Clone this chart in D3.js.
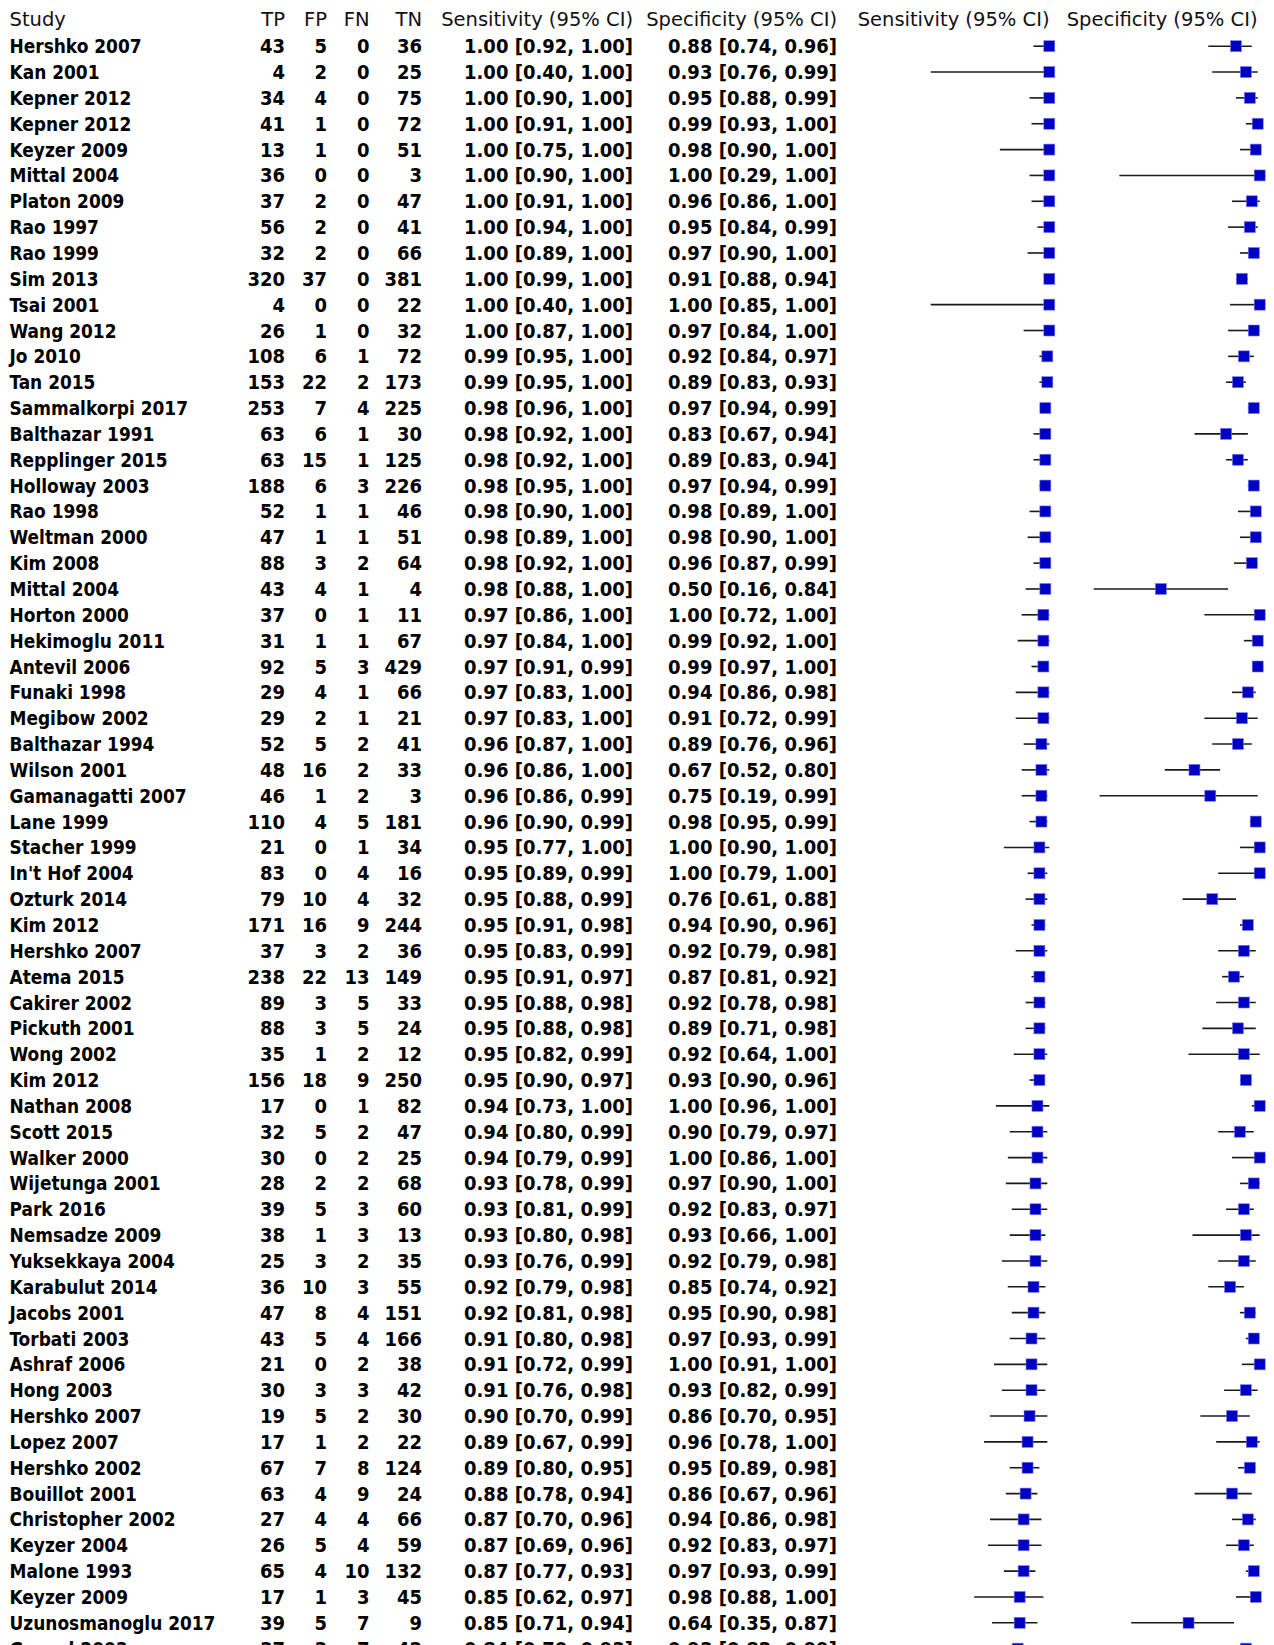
<!DOCTYPE html>
<html>
<head>
<meta charset="utf-8">
<script src="https://cdn.jsdelivr.net/npm/d3@7"></script>
<style>
  html, body { margin: 0; padding: 0; background: #fff; }
  svg { display: block; }
  .hdr { font-family: "DejaVu Sans", sans-serif; font-size: 19.5px; fill: #111; }
  .row { font-family: "DejaVu Sans Condensed", "DejaVu Sans", sans-serif; font-weight: bold; font-size: 20px; fill: #000; }
  .row.name { font-size: 18.9px; }
</style>
</head>
<body>
<svg id="chart" width="1274" height="1645"></svg>
<script>
const studies = ["Hershko 2007","Kan 2001","Kepner 2012","Kepner 2012","Keyzer 2009","Mittal 2004","Platon 2009","Rao 1997","Rao 1999","Sim 2013","Tsai 2001","Wang 2012","Jo 2010","Tan 2015","Sammalkorpi 2017","Balthazar 1991","Repplinger 2015","Holloway 2003","Rao 1998","Weltman 2000","Kim 2008","Mittal 2004","Horton 2000","Hekimoglu 2011","Antevil 2006","Funaki 1998","Megibow 2002","Balthazar 1994","Wilson 2001","Gamanagatti 2007","Lane 1999","Stacher 1999","In't Hof 2004","Ozturk 2014","Kim 2012","Hershko 2007","Atema 2015","Cakirer 2002","Pickuth 2001","Wong 2002","Kim 2012","Nathan 2008","Scott 2015","Walker 2000","Wijetunga 2001","Park 2016","Nemsadze 2009","Yuksekkaya 2004","Karabulut 2014","Jacobs 2001","Torbati 2003","Ashraf 2006","Hong 2003","Hershko 2007","Lopez 2007","Hershko 2002","Bouillot 2001","Christopher 2002","Keyzer 2004","Malone 1993","Keyzer 2009","Uzunosmanoglu 2017","Gonzal 2003"];
const TP = [43,4,34,41,13,36,37,56,32,320,4,26,108,153,253,63,63,188,52,47,88,43,37,31,92,29,29,52,48,46,110,21,83,79,171,37,238,89,88,35,156,17,32,30,28,39,38,25,36,47,43,21,30,19,17,67,63,27,26,65,17,39,37];
const FP = [5,2,4,1,1,0,2,2,2,37,0,1,6,22,7,6,15,6,1,1,3,4,0,1,5,4,2,5,16,1,4,0,0,10,16,3,22,3,3,1,18,0,5,0,2,5,1,3,10,8,5,0,3,5,1,7,4,4,5,4,1,5,3];
const FN = [0,0,0,0,0,0,0,0,0,0,0,0,1,2,4,1,1,3,1,1,2,1,1,1,3,1,1,2,2,2,5,1,4,4,9,2,13,5,5,2,9,1,2,2,2,3,3,2,3,4,4,2,3,2,2,8,9,4,4,10,3,7,7];
const TN = [36,25,75,72,51,3,47,41,66,381,22,32,72,173,225,30,125,226,46,51,64,4,11,67,429,66,21,41,33,3,181,34,16,32,244,36,149,33,24,12,250,82,47,25,68,60,13,35,55,151,166,38,42,30,22,124,24,66,59,132,45,9,42];
const sens   = [1.00,1.00,1.00,1.00,1.00,1.00,1.00,1.00,1.00,1.00,1.00,1.00,0.99,0.99,0.98,0.98,0.98,0.98,0.98,0.98,0.98,0.98,0.97,0.97,0.97,0.97,0.97,0.96,0.96,0.96,0.96,0.95,0.95,0.95,0.95,0.95,0.95,0.95,0.95,0.95,0.95,0.94,0.94,0.94,0.93,0.93,0.93,0.93,0.92,0.92,0.91,0.91,0.91,0.90,0.89,0.89,0.88,0.87,0.87,0.87,0.85,0.85,0.84];
const sensLo = [0.92,0.40,0.90,0.91,0.75,0.90,0.91,0.94,0.89,0.99,0.40,0.87,0.95,0.95,0.96,0.92,0.92,0.95,0.90,0.89,0.92,0.88,0.86,0.84,0.91,0.83,0.83,0.87,0.86,0.86,0.90,0.77,0.89,0.88,0.91,0.83,0.91,0.88,0.88,0.82,0.90,0.73,0.80,0.79,0.78,0.81,0.80,0.76,0.79,0.81,0.80,0.72,0.76,0.70,0.67,0.80,0.78,0.70,0.69,0.77,0.62,0.71,0.70];
const sensHi = [1.00,1.00,1.00,1.00,1.00,1.00,1.00,1.00,1.00,1.00,1.00,1.00,1.00,1.00,1.00,1.00,1.00,1.00,1.00,1.00,1.00,1.00,1.00,1.00,0.99,1.00,1.00,1.00,1.00,0.99,0.99,1.00,0.99,0.99,0.98,0.99,0.97,0.98,0.98,0.99,0.97,1.00,0.99,0.99,0.99,0.99,0.98,0.99,0.98,0.98,0.98,0.99,0.98,0.99,0.99,0.95,0.94,0.96,0.96,0.93,0.97,0.94,0.93];
const spec   = [0.88,0.93,0.95,0.99,0.98,1.00,0.96,0.95,0.97,0.91,1.00,0.97,0.92,0.89,0.97,0.83,0.89,0.97,0.98,0.98,0.96,0.50,1.00,0.99,0.99,0.94,0.91,0.89,0.67,0.75,0.98,1.00,1.00,0.76,0.94,0.92,0.87,0.92,0.89,0.92,0.93,1.00,0.90,1.00,0.97,0.92,0.93,0.92,0.85,0.95,0.97,1.00,0.93,0.86,0.96,0.95,0.86,0.94,0.92,0.97,0.98,0.64,0.93];
const specLo = [0.74,0.76,0.88,0.93,0.90,0.29,0.86,0.84,0.90,0.88,0.85,0.84,0.84,0.83,0.94,0.67,0.83,0.94,0.89,0.90,0.87,0.16,0.72,0.92,0.97,0.86,0.72,0.76,0.52,0.19,0.95,0.90,0.79,0.61,0.90,0.79,0.81,0.78,0.71,0.64,0.90,0.96,0.79,0.86,0.90,0.83,0.66,0.79,0.74,0.90,0.93,0.91,0.82,0.70,0.78,0.89,0.67,0.86,0.83,0.93,0.88,0.35,0.82];
const specHi = [0.96,0.99,0.99,1.00,1.00,1.00,1.00,0.99,1.00,0.94,1.00,1.00,0.97,0.93,0.99,0.94,0.94,0.99,1.00,1.00,0.99,0.84,1.00,1.00,1.00,0.98,0.99,0.96,0.80,0.99,0.99,1.00,1.00,0.88,0.96,0.98,0.92,0.98,0.98,1.00,0.96,1.00,0.97,1.00,1.00,0.97,1.00,0.98,0.92,0.98,0.99,1.00,0.99,0.95,1.00,0.98,0.96,0.98,0.97,0.99,1.00,0.87,0.99];
const headers = ["Study","TP","FP","FN","TN","Sensitivity (95% CI)","Specificity (95% CI)","Sensitivity (95% CI)","Specificity (95% CI)"];

const svg = d3.select("#chart");
svg.append("rect").attr("width",1274).attr("height",1645).attr("fill","#fff");

const n = studies.length;
const y = d3.scalePoint().domain(d3.range(n)).range([46.2, 46.2 + (n-1)*25.846]);
const xSens = d3.scaleLinear().domain([0,1]).range([851.7, 1049.3]);
const xSpec = d3.scaleLinear().domain([0,1]).range([1062.0, 1259.7]);
const f2 = d3.format(".2f");
const ci = (v, lo, hi) => `${f2(v)} [${f2(lo)}, ${f2(hi)}]`;

const cols = [
  {x: 9.5, anchor: "start"},
  {x: 285, anchor: "end"},
  {x: 327, anchor: "end"},
  {x: 369.5, anchor: "end"},
  {x: 422, anchor: "end"},
  {x: 633, anchor: "end"},
  {x: 837, anchor: "end"},
  {x: 1049.5, anchor: "end"},
  {x: 1257.5, anchor: "end"}
];

svg.append("g").selectAll("text").data(headers).join("text")
  .attr("class","hdr")
  .attr("x",(d,i)=>cols[i].x)
  .attr("y",26)
  .attr("text-anchor",(d,i)=>cols[i].anchor)
  .text(d=>d);

const rows = d3.range(n).map(i => [studies[i], TP[i], FP[i], FN[i], TN[i], ci(sens[i],sensLo[i],sensHi[i]), ci(spec[i],specLo[i],specHi[i])]);
const rg = svg.append("g").selectAll("g").data(rows).join("g")
  .attr("transform",(d,i)=>`translate(0,${y(i)+7})`);
rg.selectAll("text").data(d=>d).join("text")
  .attr("class",(d,j)=> j===0 ? "row name" : "row")
  .attr("x",(d,j)=>cols[j].x)
  .attr("text-anchor",(d,j)=>cols[j].anchor)
  .text(d=>d);

function forest(xs, est, lo, hi) {
  const g = svg.append("g");
  g.selectAll("line").data(d3.range(n)).join("line")
    .attr("x1",i=>xs(lo[i])).attr("x2",i=>xs(hi[i]))
    .attr("y1",i=>y(i)).attr("y2",i=>y(i))
    .attr("stroke","#1a1a1a").attr("stroke-width",1.6);
  g.selectAll("rect").data(d3.range(n)).join("rect")
    .attr("x",i=>xs(est[i])-5.5).attr("y",i=>y(i)-5.5)
    .attr("width",11).attr("height",11)
    .attr("fill","#0000c2").attr("stroke","#7a7aff").attr("stroke-width",0.6);
}
forest(xSens, sens, sensLo, sensHi);
forest(xSpec, spec, specLo, specHi);
</script>
</body>
</html>
